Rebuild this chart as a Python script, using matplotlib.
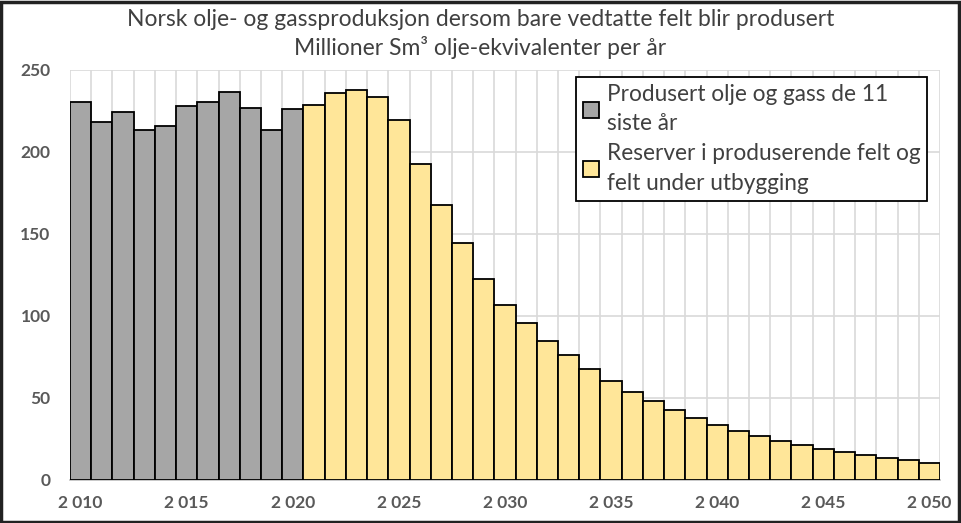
import matplotlib
matplotlib.use("Agg")
import matplotlib.pyplot as plt
from matplotlib.patches import Rectangle

years_prod = list(range(2010, 2021))
prod = [230.3, 218.5, 224.6, 213.6, 216.0, 227.8, 230.7, 236.8, 227.0, 213.6, 226.2]
years_res = list(range(2021, 2051))
res = [228.7, 236.0, 237.6, 233.3, 219.7, 192.9, 167.5, 144.3, 122.8, 106.9,
       95.5, 84.9, 76.2, 67.7, 60.2, 53.9, 48.2, 42.9, 38.0, 33.7,
       30.1, 26.8, 24.0, 21.1, 18.9, 16.9, 15.0, 13.6, 12.0, 10.6]
xticks = [2010, 2015, 2020, 2025, 2030, 2035, 2040, 2045, 2050]
xticklabels = ["2 010", "2 015", "2 020", "2 025", "2 030", "2 035", "2 040", "2 045", "2 050"]
yticks = [0, 50, 100, 150, 200, 250]
label_prod = "Produsert olje og gass de 11\nsiste år"
label_res = "Reserver i produserende felt og\nfelt under utbygging"
title = "Norsk olje- og gassproduksjon dersom bare vedtatte felt blir produsert\nMillioner Sm³ olje-ekvivalenter per år"

plt.rcParams['font.family'] = ['Lato', 'DejaVu Sans']

fig = plt.figure(figsize=(9.61, 5.23), dpi=100)
ax = fig.add_axes([70/961, 43/523, 870/961, 410/523])

ax.bar(years_prod, prod, width=1.0, color="#A6A6A6", edgecolor="black", linewidth=1.3,
       label=label_prod, zorder=3)
ax.bar(years_res, res, width=1.0, color="#FFE699", edgecolor="black", linewidth=1.3,
       label=label_res, zorder=3)

ax.set_xlim(2009.5, 2050.5)
ax.set_ylim(0, 250)
ax.set_yticks(yticks)
ax.set_xticks(xticks)
ax.set_xticklabels(xticklabels)
ax.set_xticks([y + 0.5 for y in range(2009, 2051)], minor=True)
ax.grid(False)
ax.yaxis.grid(True, color="#D9D9D9", linewidth=1.2, zorder=0)
ax.xaxis.grid(True, which="minor", color="#D9D9D9", linewidth=1.2, zorder=0)
ax.set_axisbelow(True)
for s in ["top", "right", "left"]:
    ax.spines[s].set_visible(False)
ax.spines["bottom"].set_color("#BFBFBF")
ax.spines["bottom"].set_linewidth(1.2)
ax.tick_params(axis="both", which="both", length=0)
ax.tick_params(axis="x", pad=11)
ax.tick_params(axis="y", pad=14)
for lab in ax.get_xticklabels() + ax.get_yticklabels():
    lab.set_fontsize(12.5)
    lab.set_fontweight("bold")
    lab.set_color("#595959")

leg = ax.legend(loc="upper left", bbox_to_anchor=(506/870, 1 - 7/410), fontsize=16.3,
                frameon=True, fancybox=False, edgecolor="black", framealpha=1,
                handlelength=0.7, handleheight=0.7, handletextpad=0.35,
                borderpad=0.3, labelspacing=0.4, borderaxespad=0)
leg.get_frame().set_linewidth(1.3)
for t in leg.get_texts():
    t.set_color("#404040")
    t.set_linespacing(1.5)

fig.text(0.5, 0.983, title, ha="center", va="top", fontsize=16.5, color="#404040",
         linespacing=1.3)

fig.patches.append(Rectangle((0.001, 0.002), 0.997, 0.995, transform=fig.transFigure,
                             fill=False, edgecolor="#222222", linewidth=2.5))

fig.savefig("out.png", dpi=100)
